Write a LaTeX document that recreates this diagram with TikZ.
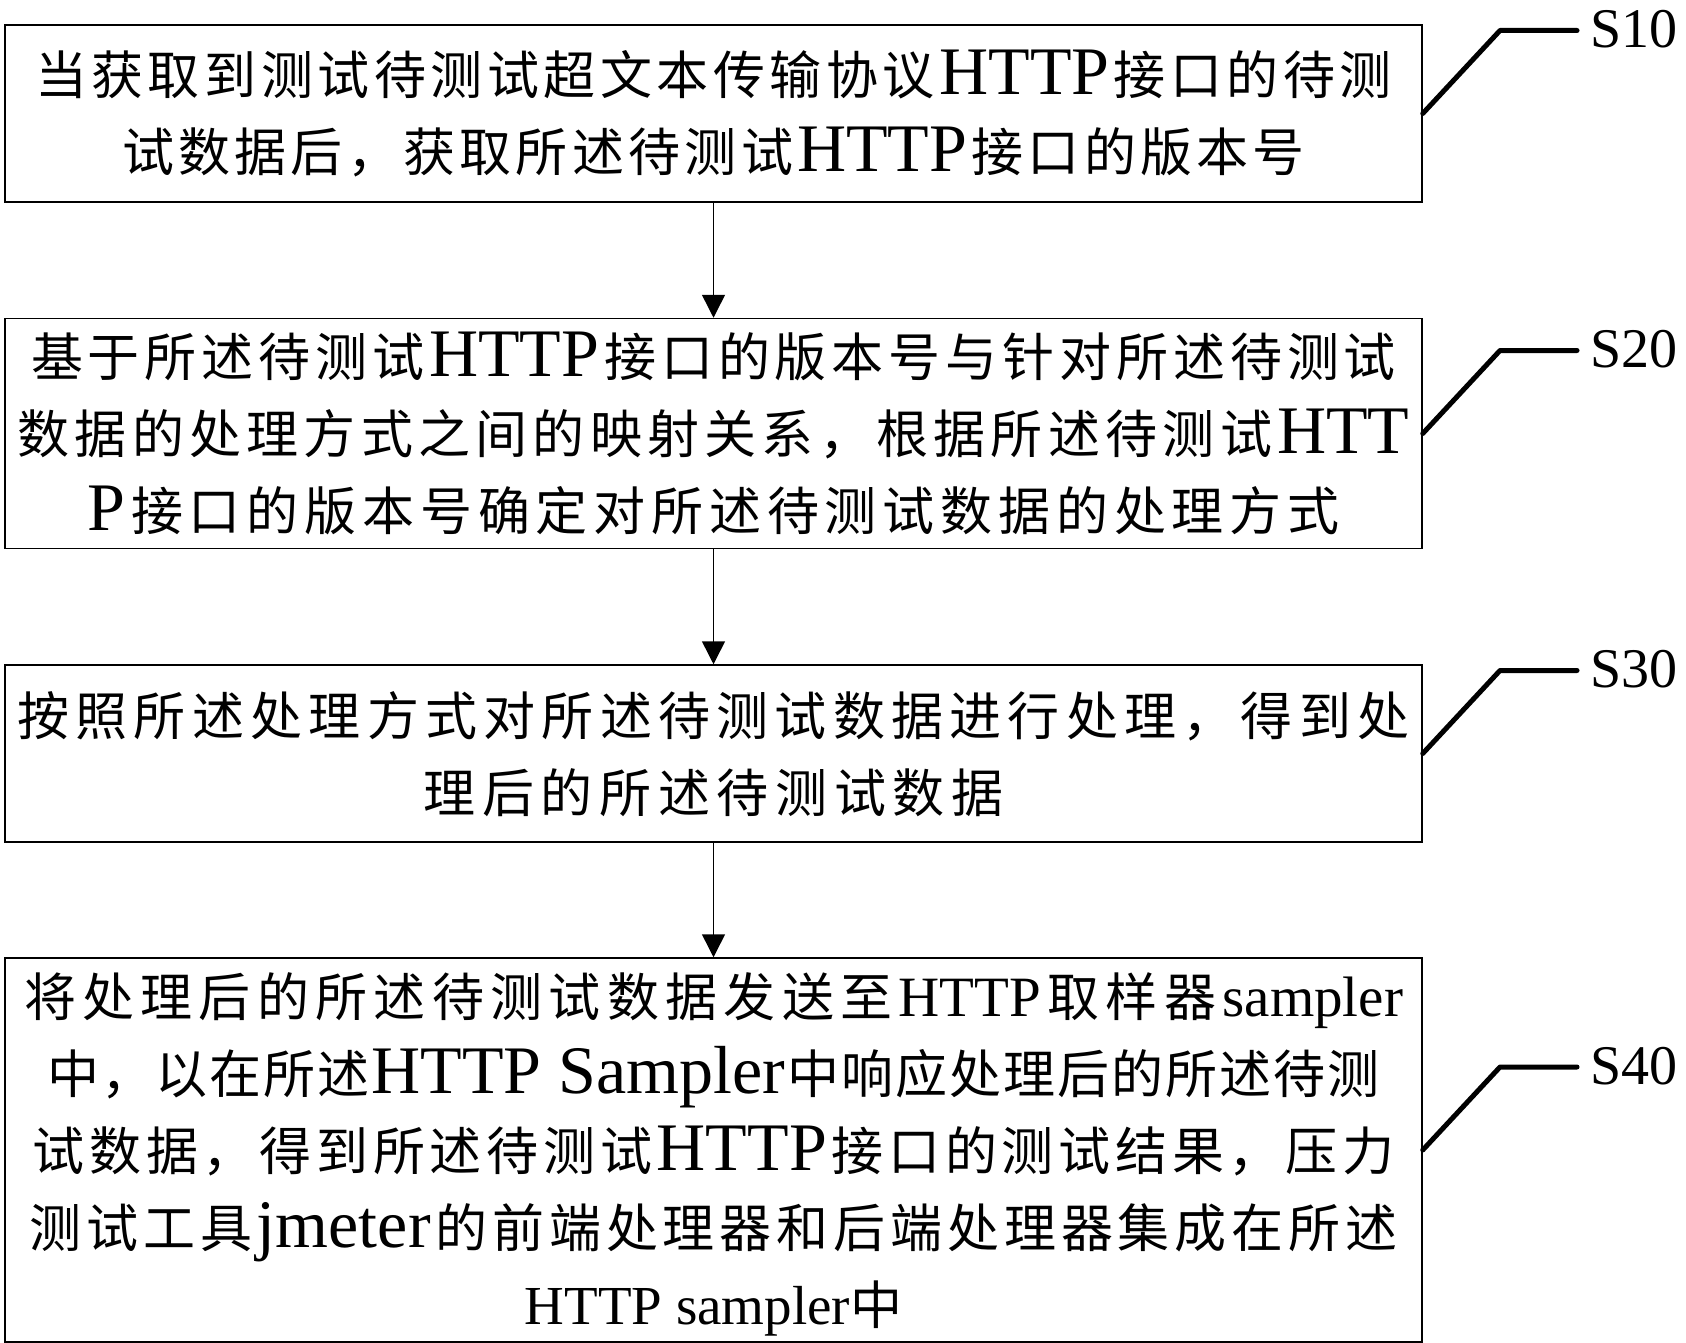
\documentclass[tikz,border=0pt]{standalone}
\usepackage{fontspec}
\setmainfont{Liberation Serif}
\newfontfamily\cjk{Noto Sans CJK SC}
\usetikzlibrary{arrows.meta}
\makeatletter
\def\latsize{68pt}
\def\cjksize{52pt}
\newcommand\lat{\rmfamily\fontsize{\latsize}{76pt}\selectfont}
\def\spstop{SPSTOP}
\def\spsep{}
\def\spitem#1{{\cjk\fontsize{\cjksize}{76pt}\selectfont#1}}
\def\spfirst#1{\spitem{#1}\spnext}
\def\spnext{\futurelet\sptok\spcheck}
\def\spcheck{\ifx\sptok\spstop\expandafter\@gobble\else\expandafter\spdo\fi}
\def\spdo#1{\spsep\spitem{#1}\spnext}
\newcommand\fl[2]{\makebox[#1pt][s]{\def\spsep{\hfill}\rule[-18pt]{0pt}{76pt}\spfirst#2\spstop}}
\newcommand\pl[1]{\hbox{\def\spsep{}\rule[-18pt]{0pt}{76pt}\spfirst#1\spstop}}
\makeatother
\tikzset{
  box/.style={draw=black, line width=1.5pt, inner sep=0pt, align=center, fill=white},
  arr/.style={draw=black, line width=1.5pt, -{Triangle[width=23pt,length=23pt]}},
  leader/.style={draw=black, line width=5pt, line cap=round, line join=round},
  slabel/.style={anchor=west, inner sep=0pt, font=\fontsize{56pt}{60pt}\selectfont}
}
\begin{document}
\begin{tikzpicture}[x=1pt,y=-1pt]
\useasboundingbox[fill=white] (0,0) rectangle (1686,1343);

\node[box, minimum width=1417pt, minimum height=177pt] (b1) at (713.5,113.5) {%
\fl{1357}{当获取到测试待测试超文本传输协议{\lat HTTP}接口的待测}\\
\fl{1183}{试数据后，获取所述待测试{\lat HTTP}接口的版本号}};

\node[box, minimum width=1417pt, minimum height=227pt] (b2) at (713.5,433.5) {%
\fl{1365}{基于所述待测试{\lat HTTP}接口的版本号与针对所述待测试}\\
\fl{1392}{数据的处理方式之间的映射关系，根据所述待测试{\lat HTT}}\\
\fl{1252}{{\lat P}接口的版本号确定对所述待测试数据的处理方式}};

\node[box, minimum width=1417pt, minimum height=177pt] (b3) at (713.5,753.5) {%
\fl{1392}{按照所述处理方式对所述待测试数据进行处理，得到处}\\
\fl{580}{理后的所述待测试数据}};

\node[box, minimum width=1417pt, minimum height=378pt] (b4) at (713.5,1150) {%
\def\latsize{57pt}%
\fl{1379}{将处理后的所述待测试数据发送至{\lat HTTP}取样器{\lat sampler}}\\
\fl{1333}{中，以在所述{\lat HTTP Sampler}中响应处理后的所述待测}\\
\fl{1362}{试数据，得到所述待测试{\lat HTTP}接口的测试结果，压力}\\
\fl{1368}{测试工具{\lat jmeter}的前端处理器和后端处理器集成在所述}\\
\def\latsize{55pt}%
\pl{{\lat HTTP sampler}中}};

\draw[arr] (b1.south) -- (b2.north);
\draw[arr] (b2.south) -- (b3.north);
\draw[arr] (b3.south) -- (b4.north);

\coordinate (c1) at (1500,30.5);  \coordinate (e1) at (1577,30.5);
\coordinate (c2) at (1500,350.5); \coordinate (e2) at (1577,350.5);
\coordinate (c3) at (1500,670.5); \coordinate (e3) at (1577,670.5);
\coordinate (c4) at (1500,1067);  \coordinate (e4) at (1577,1067);

\draw[leader] (b1.east) -- (c1) -- (e1);
\draw[leader] (b2.east) -- (c2) -- (e2);
\draw[leader] (b3.east) -- (c3) -- (e3);
\draw[leader] (b4.east) -- (c4) -- (e4);

\node[slabel] (l1) at (1590,29.5) {S10};
\node[slabel] (l2) at (1590,349.5) {S20};
\node[slabel] (l3) at (1590,669.5) {S30};
\node[slabel] (l4) at (1590,1066) {S40};
\end{tikzpicture}
\end{document}
